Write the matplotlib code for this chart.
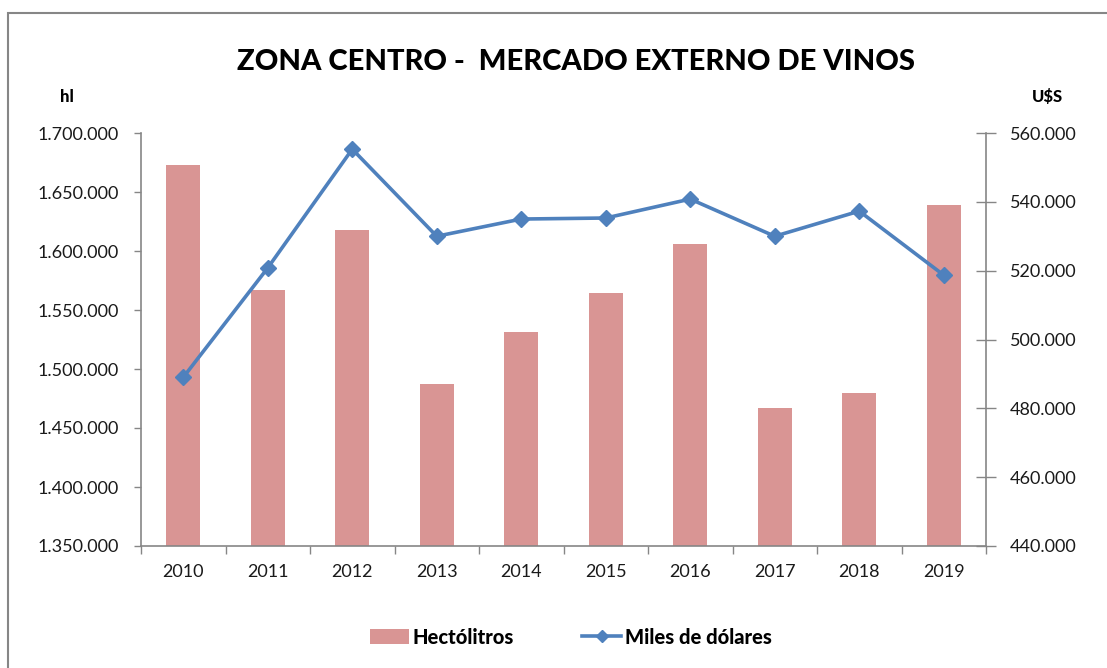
import matplotlib
matplotlib.use("Agg")
import matplotlib.pyplot as plt
import numpy as np
from matplotlib.ticker import FuncFormatter, FixedLocator
from matplotlib.patches import Rectangle
from matplotlib.lines import Line2D
from matplotlib.patches import Patch

years = ["2010", "2011", "2012", "2013", "2014", "2015", "2016", "2017", "2018", "2019"]
hectolitros = [1673000, 1567000, 1618000, 1487000, 1531500, 1564500, 1606000, 1467000, 1479500, 1639000]
miles_dolares = [489000, 520800, 555300, 530000, 535000, 535300, 540800, 530000, 537300, 518700]

left_ticks = [1350000, 1400000, 1450000, 1500000, 1550000, 1600000, 1650000, 1700000]
right_ticks = [440000, 460000, 480000, 500000, 520000, 540000, 560000]

BAR = "#D99594"
LINE = "#4F81BD"
GRID = "#868686"
TXT = "#1a1a1a"

W, H = 1107, 668
fig = plt.figure(figsize=(W / 100, H / 100), dpi=100)
fig.patch.set_facecolor("white")

# chart border
fig.patches.append(Rectangle((8 / W, -0.1), 1.2, (H - 13) / H + 0.1, transform=fig.transFigure,
                             fill=False, edgecolor=GRID, linewidth=1.5))

ax = fig.add_axes([141 / W, (H - 546) / H, (986 - 141) / W, (546 - 133) / H])
ax2 = ax.twinx()

x = np.arange(len(years))
ax.bar(x, hectolitros, width=0.40, color=BAR, zorder=2)
ax2.plot(x, miles_dolares, color=LINE, linewidth=2.6, marker="D", markersize=8.5, zorder=3)

ax.set_xlim(-0.5, len(years) - 0.5)
ax.set_ylim(1350000, 1700000)
ax2.set_ylim(440000, 560000)

def fmt(v, pos):
    return f"{int(round(v)):,}".replace(",", ".")

tick_font = "Lato"
ax.yaxis.set_major_locator(FixedLocator(left_ticks))
ax.yaxis.set_major_formatter(FuncFormatter(fmt))
ax2.yaxis.set_major_locator(FixedLocator(right_ticks))
ax2.yaxis.set_major_formatter(FuncFormatter(fmt))

ax.set_xticks(x)
ax.set_xticklabels(years)
ax.set_xticks(np.arange(-0.5, len(years)), minor=True)
ax.tick_params(axis="x", which="major", length=0, pad=13, labelsize=13, labelcolor=TXT)
ax.tick_params(axis="x", which="minor", length=6, color=GRID, direction="out", width=1)
ax.tick_params(axis="y", length=5, direction="out", color=GRID, width=1, pad=11, labelsize=13, labelcolor=TXT)
ax2.tick_params(axis="y", length=14, direction="inout", color=GRID, width=1, pad=10, labelsize=13, labelcolor=TXT)

for lab in ax.get_xticklabels() + ax.get_yticklabels() + ax2.get_yticklabels():
    lab.set_family(tick_font)

for a in (ax, ax2):
    a.spines["top"].set_visible(False)
    for s in ("left", "right", "bottom"):
        a.spines[s].set_color(GRID)
        a.spines[s].set_linewidth(1.2)
ax.spines["right"].set_visible(False)
ax2.spines["left"].set_visible(False)
ax2.spines["bottom"].set_visible(False)

title_font = ["Lato", "DejaVu Sans"]
fig.text(576 / W, 1 - 62 / H, "ZONA CENTRO -  MERCADO EXTERNO DE VINOS", ha="center", va="center",
         fontsize=21, fontweight="black", family=title_font, color="black")
fig.text(67 / W, 1 - 97 / H, "hl", ha="center", va="center", fontsize=12, fontweight="black",
         family=title_font, color="black")
fig.text(1047 / W, 1 - 97 / H, "U$S", ha="center", va="center", fontsize=12, fontweight="black",
         family=title_font, color="black")

handles = [Patch(facecolor=BAR, edgecolor="none"),
           Line2D([0], [0], color=LINE, linewidth=2.6, marker="D", markersize=6)]
leg = fig.legend(handles, ["Hectólitros", "Miles de dólares"], loc="center", bbox_to_anchor=(571 / W, 1 - 637 / H),
                 ncol=2, frameon=False, handlelength=1.9, handleheight=0.7, handletextpad=0.2, columnspacing=3.4,
                 prop={"family": title_font, "weight": "black", "size": 14.5})

fig.savefig("out.png", dpi=100, facecolor="white")
